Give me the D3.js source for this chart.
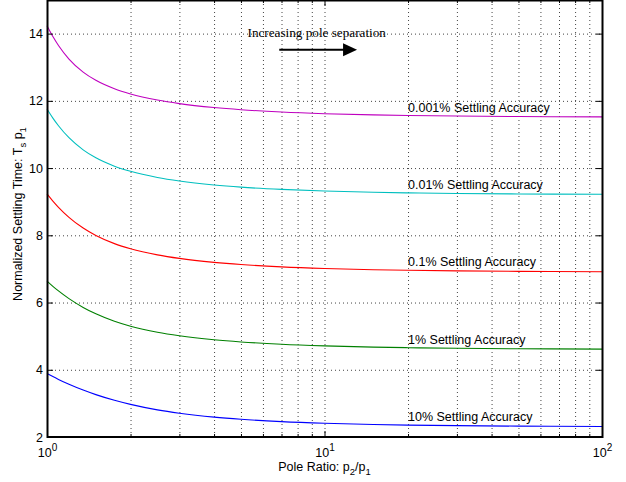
<!DOCTYPE html>
<html>
<head>
<meta charset="utf-8">
<script src="https://cdn.jsdelivr.net/npm/d3@7"></script>
<style>
  body { margin: 0; background: #fff; }
  svg { display: block; font-family: "Liberation Sans", Arial, Helvetica, sans-serif; }
</style>
</head>
<body>
<svg id="chart" width="626" height="482"></svg>
<script>
// Pole ratio p2/p1 (x) and normalized settling time Ts*p1 (y) for each accuracy level
const poleRatios = [1, 1.05, 1.1, 1.2, 1.35, 1.5, 1.75, 2, 2.5, 3, 4, 5, 7, 10, 15, 20, 30, 50, 100];
const settle10pct    = [3.890, 3.798, 3.714, 3.570, 3.397, 3.261, 3.092, 2.970, 2.807, 2.707, 2.590, 2.526, 2.457, 2.408, 2.372, 2.354, 2.337, 2.323, 2.313];
const settle1pct     = [6.638, 6.483, 6.345, 6.116, 5.855, 5.664, 5.443, 5.296, 5.116, 5.011, 4.893, 4.828, 4.759, 4.711, 4.674, 4.657, 4.639, 4.625, 4.615];
const settle01pct    = [9.233, 9.019, 8.834, 8.536, 8.215, 7.994, 7.753, 7.601, 7.419, 7.313, 7.196, 7.131, 7.062, 7.013, 6.977, 6.959, 6.942, 6.928, 6.918];
const settle001pct   = [11.756, 11.486, 11.259, 10.903, 10.542, 10.305, 10.057, 9.903, 9.721, 9.616, 9.498, 9.433, 9.365, 9.316, 9.279, 9.262, 9.244, 9.231, 9.220];
const settle0001pct  = [14.237, 13.913, 13.647, 13.244, 12.855, 12.610, 12.360, 12.206, 12.024, 11.918, 11.801, 11.736, 11.667, 11.618, 11.582, 11.564, 11.547, 11.533, 11.523];

const seriesLabels = ["10% Settling Accuracy", "1% Settling Accuracy", "0.1% Settling Accuracy",
                      "0.01% Settling Accuracy", "0.001% Settling Accuracy"];
const seriesValues = [settle10pct, settle1pct, settle01pct, settle001pct, settle0001pct];
const seriesColors = ["#0000ff", "#008000", "#ff0000", "#00bfbf", "#bf00bf"];

// Axis ticks
const xMajorTicks = [1, 10, 100];
const xMinorTicks = [2, 3, 4, 5, 6, 7, 8, 9, 20, 30, 40, 50, 60, 70, 80, 90];
const xExponents = ["0", "1", "2"];
const yTicks = [2, 4, 6, 8, 10, 12, 14];

// Annotation text
const annotationText = "Increasing pole separation";
const labelRatio = 20;   // pole ratio where the curve labels start

const margin = { left: 47, top: 0, right: 24, bottom: 45 };
const width = 626 - margin.left - margin.right;
const height = 482 - margin.top - margin.bottom;

const svg = d3.select("#chart");
const g = svg.append("g").attr("transform", `translate(${margin.left},${margin.top})`);

const x = d3.scaleLog().domain([1, 100]).range([0, width]);
const y = d3.scaleLinear().domain([2, 15]).range([height, 0]);

// Dotted grid
const gridStyle = sel => {
  sel.select(".domain").remove();
  sel.selectAll(".tick line")
    .attr("stroke", "#444")
    .attr("stroke-width", 1)
    .attr("stroke-dasharray", "1,3");
};
g.append("g")
  .attr("transform", `translate(0,${height})`)
  .call(d3.axisBottom(x).tickValues(xMajorTicks.concat(xMinorTicks)).tickSize(-height).tickFormat(""))
  .call(gridStyle);
g.append("g")
  .call(d3.axisLeft(y).tickValues(yTicks).tickSize(-width).tickFormat(""))
  .call(gridStyle);

// Curves
const line = d3.line()
  .x(d => x(d[0]))
  .y(d => y(d[1]))
  .curve(d3.curveMonotoneX);

seriesValues.forEach((vals, i) => {
  const pts = poleRatios.map((r, j) => [r, vals[j]]);
  g.append("path")
    .attr("d", line(pts))
    .attr("fill", "none")
    .attr("stroke", seriesColors[i])
    .attr("stroke-width", 1.1);

  const atLabel = vals[poleRatios.indexOf(labelRatio)];
  g.append("text")
    .attr("x", x(labelRatio))
    .attr("y", y(atLabel) - 4)
    .attr("font-size", 12.5)
    .attr("fill", "#000")
    .text(seriesLabels[i]);
});

// Annotation with arrow
g.append("text")
  .attr("x", x(5.28))
  .attr("y", y(13.91))
  .attr("font-family", "'Liberation Serif', 'Times New Roman', serif")
  .attr("font-size", 13.2)
  .text(annotationText);
const ay = y(13.52);
const ax0 = x(6.87), ax1 = x(13.1);
g.append("line")
  .attr("x1", ax0).attr("x2", ax1 - 12)
  .attr("y1", ay).attr("y2", ay)
  .attr("stroke", "#000").attr("stroke-width", 1.8);
g.append("path")
  .attr("d", `M${ax1},${ay} L${ax1 - 14},${ay - 6.5} L${ax1 - 14},${ay + 6.5} Z`)
  .attr("fill", "#000");

// Axes with inward ticks on all four sides
const axisStyle = sel => {
  sel.select(".domain").remove();
  sel.selectAll(".tick line").attr("stroke", "#000").attr("stroke-width", 1);
  sel.selectAll(".tick text").attr("fill", "#000").attr("font-size", 12.5)
    .attr("font-family", "'Liberation Sans', Arial, sans-serif");
};

const bottom = g.append("g")
  .attr("transform", `translate(0,${height})`)
  .call(d3.axisBottom(x).tickValues(xMajorTicks).tickSize(-6).tickPadding(11).tickFormat(""))
  .call(axisStyle);
bottom.selectAll(".tick text").each(function(d, i) {
  const t = d3.select(this);
  t.attr("dy", "0.71em");
  t.append("tspan").text("10");
  t.append("tspan").attr("dy", -6).attr("font-size", 10).text(xExponents[i]);
});
g.append("g")
  .attr("transform", `translate(0,${height})`)
  .call(d3.axisBottom(x).tickValues(xMinorTicks).tickSize(-3).tickFormat(""))
  .call(axisStyle);
g.append("g")
  .call(d3.axisTop(x).tickValues(xMajorTicks).tickSize(-6).tickFormat(""))
  .call(axisStyle);
g.append("g")
  .call(d3.axisTop(x).tickValues(xMinorTicks).tickSize(-3).tickFormat(""))
  .call(axisStyle);
g.append("g")
  .call(d3.axisLeft(y).tickValues(yTicks).tickSize(-6).tickPadding(4))
  .call(axisStyle);
g.append("g")
  .attr("transform", `translate(${width},0)`)
  .call(d3.axisRight(y).tickValues(yTicks).tickSize(-6).tickFormat(""))
  .call(axisStyle);

// Box
g.append("rect")
  .attr("x", 0.5).attr("y", 0.5)
  .attr("width", width).attr("height", height - 0.5)
  .attr("fill", "none")
  .attr("stroke", "#000")
  .attr("stroke-width", 2);

// Axis titles
const xTitle = svg.append("text")
  .attr("x", margin.left + width / 2)
  .attr("y", 471)
  .attr("text-anchor", "middle")
  .attr("font-size", 12.5);
xTitle.append("tspan").text("Pole Ratio: p");
xTitle.append("tspan").attr("dy", 4).attr("font-size", 9.5).text("2");
xTitle.append("tspan").attr("dy", -4).text("/p");
xTitle.append("tspan").attr("dy", 4).attr("font-size", 9.5).text("1");

const yTitle = svg.append("text")
  .attr("transform", "translate(22,214) rotate(-90)")
  .attr("text-anchor", "middle")
  .attr("font-size", 12.5);
yTitle.append("tspan").text("Normalized Settling Time: T");
yTitle.append("tspan").attr("dy", 4).attr("font-size", 9.5).text("s");
yTitle.append("tspan").attr("dy", -4).text(" p");
yTitle.append("tspan").attr("dy", 4).attr("font-size", 9.5).text("1");
</script>
</body>
</html>
